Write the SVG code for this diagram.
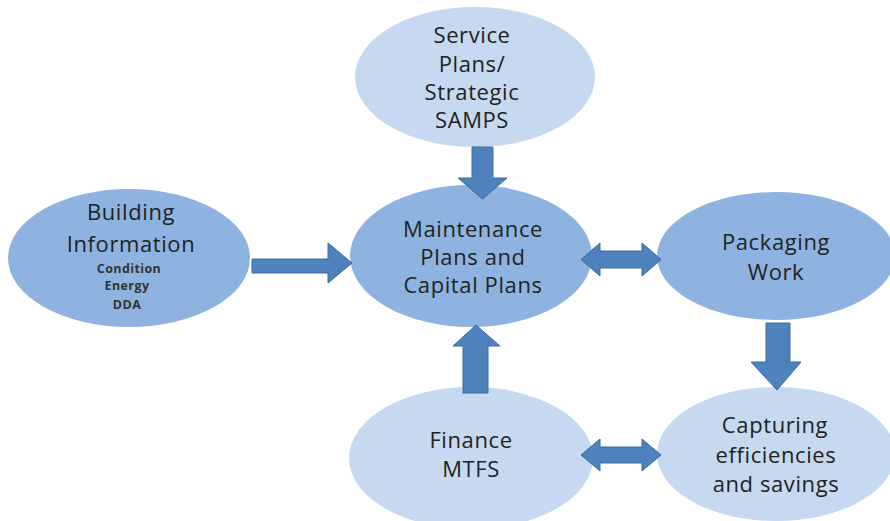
<svg xmlns="http://www.w3.org/2000/svg" width="890" height="521" viewBox="0 0 890 521">
<style>
.light{fill:#c6d9f0;}
.dark{fill:#8eb3e1;}
.t{font-family:"Open Sans","Liberation Sans",sans-serif;font-size:22px;letter-spacing:0.6px;fill:#222222;text-anchor:middle;}
.s{font-family:"Open Sans","Liberation Sans",sans-serif;font-size:12.5px;font-weight:bold;letter-spacing:0.4px;fill:#333333;text-anchor:middle;}
.arr{fill:#4f81bd;stroke:#3c6a9e;stroke-width:1;}
</style>
<rect width="890" height="521" fill="#ffffff"/>
<g id="service">
<ellipse class="light" cx="475" cy="77" rx="120" ry="70"/>
<text class="t" x="472" y="43">Service</text>
<text class="t" x="472" y="72">Plans/</text>
<text class="t" x="472" y="100">Strategic</text>
<text class="t" x="472" y="128">SAMPS</text>
</g>
<g id="maintenance">
<ellipse class="dark" cx="471" cy="256" rx="121" ry="71"/>
<text class="t" x="473" y="237">Maintenance</text>
<text class="t" x="473" y="265">Plans and</text>
<text class="t" x="473" y="293">Capital Plans</text>
</g>
<g id="building">
<ellipse class="dark" cx="129" cy="258" rx="121" ry="69"/>
<text class="t" x="131" y="220">Building</text>
<text class="t" x="131" y="252">Information</text>
<text class="s" x="129" y="273">Condition</text>
<text class="s" x="127" y="290">Energy</text>
<text class="s" x="127" y="309">DDA</text>
</g>
<g id="packaging">
<ellipse class="dark" cx="776" cy="256" rx="119" ry="64"/>
<text class="t" x="776" y="250">Packaging</text>
<text class="t" x="776" y="280">Work</text>
</g>
<g id="finance">
<ellipse class="light" cx="471" cy="458" rx="122" ry="71"/>
<text class="t" x="471" y="448">Finance</text>
<text class="t" x="471" y="477">MTFS</text>
</g>
<g id="capturing">
<ellipse class="light" cx="776" cy="454" rx="119" ry="67"/>
<text class="t" x="775" y="433">Capturing</text>
<text class="t" x="776" y="463">efficiencies</text>
<text class="t" x="776" y="492">and savings</text>
</g>
<g id="connectors">
<polygon class="arr" points="472,147 493,147 493,178 507,178 482.5,199 458,178 472,178"/>
<polygon class="arr" points="252,259 328,259 328,243 352,263 328,283 328,273 252,273"/>
<polygon class="arr" points="581,259.5 600,243 600,251 642,251 642,243 661,259.5 642,276 642,268 600,268 600,276"/>
<polygon class="arr" points="463,393 463,346 453,346 476,325 500,346 488,346 488,393"/>
<polygon class="arr" points="766,323 790,323 790,362 801,362 777,390 751,362 766,362"/>
<polygon class="arr" points="581,455 600,439 600,447 642,447 642,439 661,455 642,471 642,463 600,463 600,471"/>
</g>
</svg>
